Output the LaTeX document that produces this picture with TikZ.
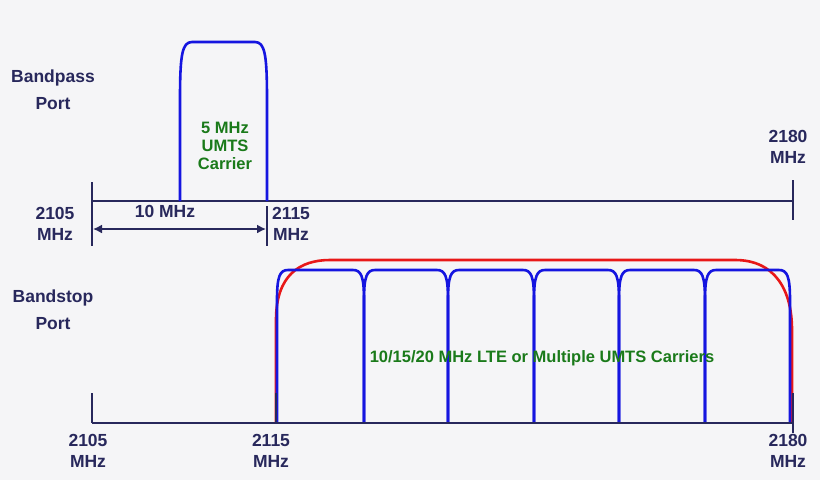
\documentclass[tikz,border=0pt]{standalone}
\usepackage{fontspec}
\usetikzlibrary{arrows.meta}
\setmainfont{Liberation Sans}
\begin{document}
\begin{tikzpicture}[x=1pt,y=-1pt,
  lbl/.style={font=\bfseries\fontsize{17.5}{21}\selectfont,text=navy,align=center,inner sep=0},
  grn/.style={font=\bfseries\fontsize{16.5}{18}\selectfont,text=grn,align=center,inner sep=0},
  ax/.style={navy,line width=1.6pt},
  blu/.style={draw=bl,line width=2.6pt,line join=round},
  red/.style={draw=rd,line width=2.6pt}]
\definecolor{navy}{HTML}{28285C}
\definecolor{grn}{HTML}{1A7A1A}
\definecolor{bl}{HTML}{1515E0}
\definecolor{rd}{HTML}{E81818}
\definecolor{bg}{HTML}{F5F5F7}
\fill[bg] (0,0) rectangle (820,480);
\useasboundingbox (0,0) rectangle (820,480);
% top
\coordinate (a1) at (92,201); \coordinate (a2) at (793,201);
\draw[ax] (a1) -- (a2);
\draw[ax] (92,182) -- (92,246);
\draw[ax] (267,206) -- (267,246);
\draw[ax] (793,180) -- (793,220);
\coordinate (l1) at (93,229); \coordinate (l2) at (266,229);
\draw[ax,{Latex[length=9pt,width=9pt]}-{Latex[length=9pt,width=9pt]}] (l1) -- (l2);
\draw[blu] (180,201) -- (180,100) .. controls (180,55) and (182,42) .. (192,42) -- (255,42) .. controls (265,42) and (267,55) .. (267,100) -- (267,201);
\node[lbl] (bp) at (53,78) {Bandpass};
\node[lbl] (bpp) at (53,104) {Port};
\node[lbl] (t1) at (55,224) {2105\\MHz};
\node[lbl] (t2) at (165,211) {10 MHz};
\node[lbl] (t3) at (291,224) {2115\\MHz};
\node[lbl] (t4) at (788,147) {2180\\MHz};
\node[grn] (g1) at (225,146) {5 MHz\\UMTS\\Carrier};
% bottom
\draw[red] (276,423) -- (276,320) .. controls (276,275) and (300,260) .. (330,260) -- (735,260) .. controls (775,260) and (792,290) .. (792,330) -- (792,423);
\foreach \a/\b in {277/364,364/448,448/534,534/619,619/705,705/790}{
  \draw[blu] (\a,423) -- (\a,300) .. controls (\a,276) and (\a+3,270) .. (\a+11,270) -- (\b-11,270) .. controls (\b-3,270) and (\b,276) .. (\b,300) -- (\b,423);
}
\draw[ax] (92,423) -- (793,423);
\draw[ax] (92,393) -- (92,423);
\draw[ax] (276,393) -- (276,423);
\draw[ax] (793,393) -- (793,433);
\node[lbl] (bs) at (53,298) {Bandstop};
\node[lbl] (bsp) at (53,324) {Port};
\node[lbl] (b1) at (88,451) {2105\\MHz};
\node[lbl] (b2) at (271,451) {2115\\MHz};
\node[lbl] (b3) at (788,451) {2180\\MHz};
\node[grn] (g2) at (542,358) {10/15/20 MHz LTE or Multiple UMTS Carriers};
\end{tikzpicture}
\end{document}
